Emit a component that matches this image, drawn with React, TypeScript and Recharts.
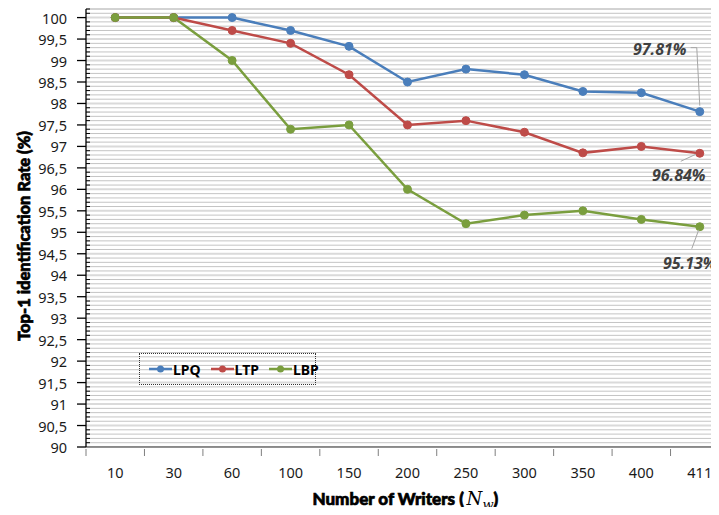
import React from "react";
import {
  LineChart,
  Line,
  XAxis,
  YAxis,
  CartesianGrid,
  ReferenceLine,
  Legend,
  LabelList,
} from "recharts";

const writers = ["10", "30", "60", "100", "150", "200", "250", "300", "350", "400", "411"];
const lpq = [100, 100, 100, 99.7, 99.33, 98.5, 98.8, 98.67, 98.28, 98.25, 97.81];
const ltp = [100, 100, 99.7, 99.4, 98.67, 97.5, 97.6, 97.33, 96.85, 97.0, 96.84];
const lbp = [100, 100, 99.0, 97.4, 97.5, 96.0, 95.2, 95.4, 95.5, 95.3, 95.13];
const yMajorTicks = [90, 90.5, 91, 91.5, 92, 92.5, 93, 93.5, 94, 94.5, 95, 95.5, 96, 96.5, 97, 97.5, 98, 98.5, 99, 99.5, 100];
const finalLabels = ["97.81%", "96.84%", "95.13%"];

const data = writers.map((w, i) => ({ writers: w, LPQ: lpq[i], LTP: ltp[i], LBP: lbp[i] }));

// minor grid / tick values every 0.1 from 90 to 100.2
const allTicks: number[] = [];
for (let k = 900; k <= 1002; k++) allTicks.push(k / 10);
const minorOnly = allTicks.filter((v) => !yMajorTicks.includes(v));

const COLORS = { LPQ: "#4A7EBB", LTP: "#BE4B48", LBP: "#7A9E3E" };
const TICK_FONT = "'Noto Sans', 'Open Sans', sans-serif";
const TITLE_FONT = "Lato, 'DejaVu Sans', sans-serif";
const MATH_FONT = "'DejaVu Serif', 'Liberation Serif', serif";

const CHART_W = 729;
const CHART_H = 515;
const Y_AXIS_W = 86;
const BAND = (CHART_W - Y_AXIS_W) / writers.length;

const YTick = (props: any) => {
  const { x, y, payload } = props;
  const v = Math.round(payload.value * 10) / 10;
  const isMajor = yMajorTicks.includes(v);
  return (
    <g>
      {isMajor ? (
        <line x1={x - 9} x2={x} y1={y} y2={y} stroke="#000" strokeWidth={1.3} />
      ) : (
        <line x1={x} x2={x + 4} y1={y} y2={y} stroke="#000" strokeWidth={1} />
      )}
      {isMajor && (
        <text
          x={x - 19}
          y={y}
          textAnchor="end"
          dominantBaseline="central"
          fontFamily={TICK_FONT}
          fontSize={14.5}
          fill="#1a1a1a"
        >
          {String(v).replace(".", ",")}
        </text>
      )}
    </g>
  );
};

const XTick = (props: any) => {
  const { x, y, payload } = props;
  return (
    <g>
      <line x1={x - BAND / 2} x2={x - BAND / 2} y1={y} y2={y + 7} stroke="#7f7f7f" strokeWidth={1} />
      <text
        x={x}
        y={y + 29}
        textAnchor="middle"
        fontFamily={TICK_FONT}
        fontSize={14.5}
        fill="#1a1a1a"
      >
        {payload.value}
      </text>
    </g>
  );
};

const LegendContent = () => {
  const items = [
    { name: "LPQ", color: COLORS.LPQ },
    { name: "LTP", color: COLORS.LTP },
    { name: "LBP", color: COLORS.LBP },
  ];
  return (
    <div
      style={{
        width: 166,
        height: 30,
        border: "1px dotted #333",
        display: "flex",
        alignItems: "center",
        paddingLeft: 9,
        boxSizing: "content-box",
        background: "transparent",
      }}
    >
      {items.map((it) => (
        <div key={it.name} style={{ display: "flex", alignItems: "center", marginRight: 10 }}>
          <svg width={23} height={10} style={{ display: "block" }}>
            <line x1={0} x2={23} y1={5} y2={5} stroke={it.color} strokeWidth={2.5} />
            <circle cx={11.5} cy={5} r={3.5} fill={it.color} />
          </svg>
          <span
            style={{
              fontFamily: TICK_FONT,
              fontWeight: 700,
              fontSize: 14,
              color: "#000",
              marginLeft: 1,
            }}
          >
            {it.name}
          </span>
        </div>
      ))}
    </div>
  );
};

// annotation offsets relative to final point
const annot: Record<string, { tx: number; ty: number; pts: number[][]; text: string }> = {
  LPQ: { tx: -40, ty: -63, pts: [[-9, -64], [-3, -64], [0, -6]], text: finalLabels[0] },
  LTP: { tx: -21, ty: 22, pts: [[-19, 8], [-4, 1]], text: finalLabels[1] },
  LBP: { tx: -10, ty: 36, pts: [[-8, 22], [-1, 3]], text: finalLabels[2] },
};

const makeAnnot = (key: string) => (props: any) => {
  const { x, y, index } = props;
  if (index !== writers.length - 1) return null;
  const a = annot[key];
  return (
    <g>
      <polyline
        points={a.pts.map((p) => `${x + p[0]},${y + p[1]}`).join(" ")}
        fill="none"
        stroke="#a6a6a6"
        strokeWidth={1}
      />
      <text
        x={x + a.tx}
        y={y + a.ty}
        textAnchor="middle"
        dominantBaseline="central"
        fontFamily={TICK_FONT}
        fontWeight={700}
        fontStyle="italic"
        fontSize={16}
        fill="#404040"
      >
        {a.text}
      </text>
    </g>
  );
};

const YTitle = () => {
  const cx = 24;
  const cy = 236;
  return (
    <text
      x={cx}
      y={cy}
      transform={`rotate(-90, ${cx}, ${cy})`}
      textAnchor="middle"
      dominantBaseline="central"
      fontFamily={TITLE_FONT}
      fontWeight={900}
      fontSize={16.5}
      fill="#000"
      stroke="#000"
      strokeWidth={0.7}
    >
      Top-1 identification Rate (%)
    </text>
  );
};

const XTitle = (props: any) => {
  const { viewBox } = props;
  const x0 = viewBox.x + viewBox.width / 2 - 95;
  const y = viewBox.y + 58;
  return (
    <g>
      <text x={x0} y={y} textAnchor="start" fontFamily={TITLE_FONT} fontWeight={900} fontSize={17} fill="#000" stroke="#000" strokeWidth={0.7}>
        Number of Writers (
      </text>
      <text x={x0 + 154} y={y} textAnchor="start" fontFamily={MATH_FONT} fontStyle="italic" fontSize={18} fill="#000">
        N
      </text>
      <text x={x0 + 170} y={y + 4} textAnchor="start" fontFamily={MATH_FONT} fontStyle="italic" fontSize={13} fill="#000">
        w
      </text>
      <text x={x0 + 181} y={y} textAnchor="start" fontFamily={TITLE_FONT} fontWeight={900} fontSize={17} fill="#000" stroke="#000" strokeWidth={0.7}>
        )
      </text>
    </g>
  );
};

export default function App() {
  return (
    <div style={{ margin: -8, width: 719, height: 515, overflow: "hidden", position: "relative", background: "#fff" }}>
      <LineChart
        width={CHART_W}
        height={CHART_H}
        data={data}
        margin={{ top: 9, right: 0, bottom: 0, left: 0 }}
      >
        <CartesianGrid vertical={false} horizontalValues={minorOnly} stroke="#c4c4c4" strokeWidth={1} />
        {yMajorTicks.map((v) => (
          <ReferenceLine key={v} y={v} stroke="#dadada" strokeWidth={2} ifOverflow="hidden" />
        ))}
        <ReferenceLine y={100.2} stroke="#c4c4c4" strokeWidth={1} />
        <XAxis
          dataKey="writers"
          type="category"
          height={68}
          interval={0}
          padding={{ left: BAND / 2, right: BAND / 2 }}
          tickLine={false}
          tickSize={0}
          tick={<XTick />}
          axisLine={{ stroke: "#6e6e6e", strokeWidth: 1.5 }}
          label={<XTitle />}
        />
        <YAxis
          type="number"
          domain={[90, 100.2]}
          ticks={allTicks}
          interval={0}
          width={Y_AXIS_W}
          tickLine={false}
          tickSize={0}
          tickMargin={0}
          tick={<YTick />}
          axisLine={{ stroke: "#000", strokeWidth: 1.3 }}
          allowDataOverflow
          label={<YTitle />}
        />
        <Legend
          layout="horizontal"
          verticalAlign="middle"
          align="center"
          wrapperStyle={{ left: 139, top: 353, width: 177, height: 32 }}
          content={<LegendContent />}
        />
        {(["LPQ", "LTP", "LBP"] as const).map((k) => (
          <Line
            key={k}
            type="linear"
            dataKey={k}
            stroke={COLORS[k]}
            strokeWidth={2.5}
            dot={{ r: 4, fill: COLORS[k], stroke: COLORS[k], strokeWidth: 1 }}
            activeDot={false}
            isAnimationActive={false}
          >
            <LabelList dataKey={k} content={makeAnnot(k)} />
          </Line>
        ))}
      </LineChart>
    </div>
  );
}
